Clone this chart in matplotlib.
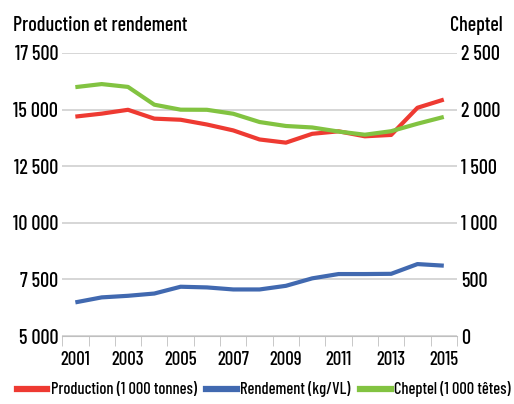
import matplotlib
matplotlib.use('Agg')
import numpy as np
from matplotlib import pyplot as plt
from matplotlib.lines import Line2D

plt.rcParams['font.family'] = ['Barlow Condensed', 'DejaVu Sans']
plt.rcParams['font.weight'] = 500

# Data
years = list(range(2001, 2016))
production = [14690, 14820, 14990, 14600, 14550, 14340, 14080, 13680, 13540, 13930, 14040, 13820, 13880, 15080, 15440]
rendement = [6490, 6710, 6780, 6880, 7180, 7150, 7060, 7060, 7220, 7550, 7740, 7740, 7750, 8180, 8110]
cheptel = [2198, 2225, 2200, 2043, 1999, 1998, 1963, 1890, 1855, 1842, 1806, 1778, 1809, 1875, 1935]
labels = ['Production (1 000 tonnes)', 'Rendement (kg/VL)', 'Cheptel (1 000 têtes)']

red = '#ee3a32'
blue = '#4169b0'
green = '#82c341'

fig = plt.figure(figsize=(5.14, 4.04), dpi=100)
ax = fig.add_axes([0.121, 0.168, 0.768, 0.701])
ax2 = ax.twinx()

# cheptel is drawn on the twin axis, on top of the other two lines
x = np.arange(len(years))
ax.plot(x, production, color=red, lw=3, solid_capstyle='butt')
ax.plot(x, rendement, color=blue, lw=3, solid_capstyle='butt')
ax2.plot(x, cheptel, color=green, lw=3, solid_capstyle='butt')

ax.set_xlim(-0.5, len(years) - 0.5)
ax.set_ylim(5000, 17500)
ax2.set_ylim(0, 2500)
ax.set_yticks(np.arange(5000, 17501, 2500))
ax2.set_yticks(np.arange(0, 2501, 500))
fmt = lambda v: f'{int(v):,}'.replace(',', ' ')
ax.set_yticklabels([fmt(v) for v in np.arange(5000, 17501, 2500)], fontsize=14.5)
ax2.set_yticklabels([fmt(v) for v in np.arange(0, 2501, 500)], fontsize=14.5)

ax.set_xticks(x[::2])
ax.set_xticklabels([str(y) for y in years[::2]], fontsize=13.5)
ax.set_xticks(np.arange(-0.5, len(years)), minor=True)
ax.tick_params(axis='x', which='major', length=0, pad=11)
ax.tick_params(axis='x', which='minor', length=7, color='#bfbfbf')
ax.tick_params(axis='y', length=0, pad=3)
ax2.tick_params(axis='y', length=0, pad=3)

ax.grid(axis='y', color='#d0d0d0', lw=1.2)
ax.set_axisbelow(True)
for a in (ax, ax2):
    for s in ['top', 'left', 'right', 'bottom']:
        a.spines[s].set_visible(False)
ax.spines['bottom'].set_visible(True)
ax.spines['bottom'].set_color('#bfbfbf')

fig.text(0.025, 0.923, 'Production et rendement', fontsize=14.5, ha='left', va='baseline')
fig.text(0.978, 0.923, 'Cheptel', fontsize=14.5, ha='right', va='baseline')

handles = [Line2D([], [], color=c, lw=4.5) for c in (red, blue, green)]
fig.legend(handles, labels,
           loc='lower center', bbox_to_anchor=(0.513, -0.02), ncol=3, frameon=False,
           fontsize=11.8, handlelength=1.85, handletextpad=0.2, columnspacing=0.6)

fig.savefig('out.png', dpi=100)
